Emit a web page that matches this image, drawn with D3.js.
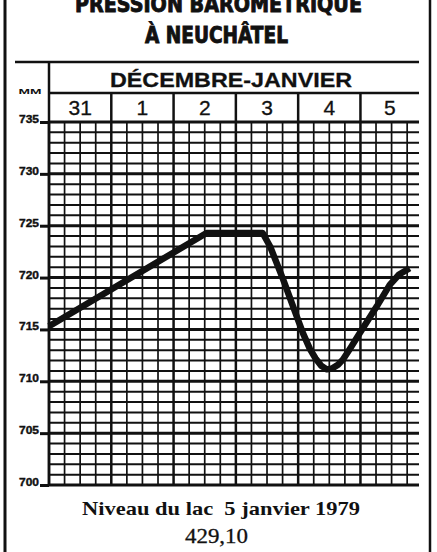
<!DOCTYPE html>
<html>
<head>
<meta charset="utf-8">
<script src="https://cdn.jsdelivr.net/npm/d3@7"></script>
<style>
  html, body { margin: 0; padding: 0; background: #fff; }
  svg { display: block; }
</style>
</head>
<body>
<div id="chart"></div>
<script>
// ---- data ----
const titleLines = ["PRESSION BAROMÉTRIQUE", "À NEUCHÂTEL"];
const periodLabel = "DÉCEMBRE-JANVIER";
const unitLabel = "MM";
const dayLabels = ["31", "1", "2", "3", "4", "5"];
const yTickValues = [700, 705, 710, 715, 720, 725, 730, 735];
// time in days since 31 December 0h
const pressureTime  = [0, 2.53, 3.43, 3.55, 3.76, 3.98, 4.08, 4.19, 4.28, 4.37, 4.46, 4.55, 4.64, 4.72, 4.85, 4.99, 5.26, 5.47, 5.62, 5.79];
const pressureValue = [715.3, 724.3, 724.3, 723.0, 719.8, 716.2, 714.6, 713.1, 712.2, 711.5, 711.15, 711.25, 711.6, 712.1, 713.3, 714.65, 717.2, 719.3, 720.3, 720.9];
const footerLine1 = "Niveau du lac  5 janvier 1979";
const footerLine2 = "429,10";

// ---- layout ----
const W = 437, H = 552;
const ink = "#111";
const tMax = 5.94;
const svg = d3.select("#chart").append("svg").attr("width", W).attr("height", H);
svg.append("rect").attr("width", W).attr("height", H).attr("fill", "#fff");

const x = d3.scaleLinear().domain([0, tMax]).range([49, 419]);
const y = d3.scaleLinear().domain([700, 735]).range([485, 122]);

// frame
svg.append("line").attr("x1", 5).attr("x2", 5).attr("y1", 0).attr("y2", H)
  .attr("stroke", ink).attr("stroke-width", 3);
svg.append("line").attr("x1", 430).attr("x2", 430).attr("y1", 0).attr("y2", H)
  .attr("stroke", ink).attr("stroke-width", 2.5);

// title
const titleFont = "'Liberation Sans Narrow','DejaVu Sans Condensed','Arial Narrow',sans-serif";
svg.append("text").attr("x", 75).attr("y", 11.5).text(titleLines[0])
  .attr("font-family", titleFont).attr("font-weight", "bold").attr("font-size", 23)
  .attr("textLength", 287).attr("lengthAdjust", "spacingAndGlyphs").attr("fill", ink)
  .attr("stroke", ink).attr("stroke-width", 0.9);
svg.append("text").attr("x", 145).attr("y", 43.3).text(titleLines[1])
  .attr("font-family", titleFont).attr("font-weight", "bold").attr("font-size", 23)
  .attr("textLength", 143).attr("lengthAdjust", "spacingAndGlyphs").attr("fill", ink)
  .attr("stroke", ink).attr("stroke-width", 0.9);

// header box lines
svg.append("line").attr("x1", 15).attr("x2", x(tMax)).attr("y1", 62).attr("y2", 62)
  .attr("stroke", ink).attr("stroke-width", 2.5);
svg.append("line").attr("x1", x(0)).attr("x2", x(tMax)).attr("y1", 93).attr("y2", 93)
  .attr("stroke", ink).attr("stroke-width", 2.5);
svg.append("line").attr("x1", x(0)).attr("x2", x(0)).attr("y1", 62).attr("y2", y(700))
  .attr("stroke", ink).attr("stroke-width", 2.5);

svg.append("text").attr("x", 231).attr("y", 87).attr("text-anchor", "middle").text(periodLabel)
  .attr("font-family", "'Liberation Sans',Arial,sans-serif").attr("font-weight", "bold")
  .attr("font-size", 20).attr("textLength", 242).attr("lengthAdjust", "spacingAndGlyphs").attr("fill", ink)
  .attr("stroke", ink).attr("stroke-width", 0.3);

svg.append("text").attr("x", 30).attr("y", 94).attr("text-anchor", "middle").text(unitLabel)
  .attr("font-family", "'Liberation Sans',Arial,sans-serif").attr("font-weight", "bold")
  .attr("font-size", 8).attr("textLength", 23).attr("lengthAdjust", "spacingAndGlyphs").attr("fill", ink);

// day dividers in header + labels
dayLabels.forEach((d, i) => {
  if (i > 0) {
    svg.append("line").attr("x1", x(i)).attr("x2", x(i)).attr("y1", 93).attr("y2", y(735))
      .attr("stroke", ink).attr("stroke-width", 2.5);
  }
  const mid = (i + Math.min(i + 1, tMax)) / 2;
  svg.append("text").attr("x", x(mid)).attr("y", 115).attr("text-anchor", "middle").text(d)
    .attr("font-family", "'Liberation Sans',Arial,sans-serif").attr("font-size", 21).attr("fill", ink)
    .attr("stroke", ink).attr("stroke-width", 0.3);
});

// grid: horizontal every mm
const g = svg.append("g");
d3.range(700, 736, 1).forEach(v => {
  const major = v % 5 === 0;
  g.append("line").attr("x1", x(0)).attr("x2", x(tMax)).attr("y1", y(v)).attr("y2", y(v))
    .attr("stroke", ink).attr("stroke-width", major ? 3 : 2);
});
// grid: vertical every 6 hours
d3.range(0, tMax, 0.25).forEach(t => {
  const major = Math.abs(t - Math.round(t)) < 1e-6;
  g.append("line").attr("x1", x(t)).attr("x2", x(t)).attr("y1", y(735)).attr("y2", y(700))
    .attr("stroke", ink).attr("stroke-width", major ? 2.5 : 1.7);
});

// y axis
const axis = d3.axisLeft(y).tickValues(yTickValues).tickSize(9).tickPadding(1).tickFormat(d3.format("d"));
const ax = svg.append("g").attr("transform", `translate(${x(0)},0)`).call(axis);
ax.select(".domain").remove();
ax.selectAll(".tick line").attr("stroke", ink).attr("stroke-width", 3);
ax.selectAll(".tick text").attr("fill", ink)
  .attr("font-family", "'Liberation Sans Narrow','Liberation Sans',Arial,sans-serif").attr("font-weight", "bold")
  .attr("font-size", 11).attr("dy", "0.05em").attr("stroke", ink).attr("stroke-width", 0.4)
  .attr("textLength", 20).attr("lengthAdjust", "spacingAndGlyphs");

// pressure line
const pts = pressureTime.map((t, i) => [t, pressureValue[i]]);
svg.append("path").datum(pts)
  .attr("d", d3.line().x(d => x(d[0])).y(d => y(d[1])).curve(d3.curveLinear))
  .attr("fill", "none").attr("stroke", ink).attr("stroke-width", 6.5)
  .attr("stroke-linejoin", "round").attr("stroke-linecap", "butt");

// footer
svg.append("text").attr("x", 82).attr("y", 515).text(footerLine1)
  .attr("font-family", "'Liberation Serif','Times New Roman',serif").attr("font-weight", "bold")
  .attr("font-size", 19).attr("textLength", 278).attr("lengthAdjust", "spacingAndGlyphs")
  .attr("xml:space", "preserve").style("white-space", "pre").attr("fill", ink);
svg.append("text").attr("x", 185).attr("y", 543).text(footerLine2)
  .attr("font-family", "'Liberation Serif','Times New Roman',serif")
  .attr("font-size", 20).attr("textLength", 63).attr("lengthAdjust", "spacingAndGlyphs").attr("fill", ink)
  .attr("stroke", ink).attr("stroke-width", 0.3);
</script>
</body>
</html>
